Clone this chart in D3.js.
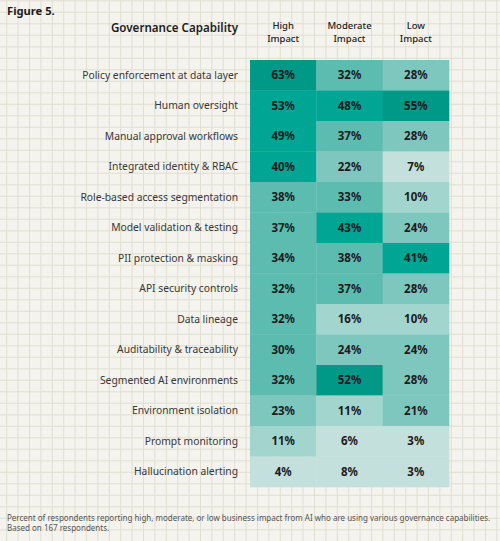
<!DOCTYPE html>
<html>
<head>
<meta charset="utf-8">
<script src="https://cdn.jsdelivr.net/npm/d3@7"></script>
<style>
  html, body { margin: 0; padding: 0; background: #f4f3ed; }
  svg { display: block; font-family: "Noto Sans", sans-serif; }
</style>
</head>
<body>
<svg id="chart" width="500" height="541"></svg>
<script>
var capabilities = [
  'Policy enforcement at data layer',
  'Human oversight',
  'Manual approval workflows',
  'Integrated identity & RBAC',
  'Role-based access segmentation',
  'Model validation & testing',
  'PII protection & masking',
  'API security controls',
  'Data lineage',
  'Auditability & traceability',
  'Segmented AI environments',
  'Environment isolation',
  'Prompt monitoring',
  'Hallucination alerting'
];
var impactLevels = [['High', 'Impact'], ['Moderate', 'Impact'], ['Low', 'Impact']];
var highImpact     = [63, 53, 49, 40, 38, 37, 34, 32, 32, 30, 32, 23, 11, 4];
var moderateImpact = [32, 48, 37, 22, 33, 43, 38, 37, 16, 24, 52, 11, 6, 8];
var lowImpact      = [28, 55, 28, 7, 10, 24, 41, 28, 10, 24, 28, 21, 3, 3];
var series = [highImpact, moderateImpact, lowImpact];

var svg = d3.select('#chart');
var W = 500, H = 541;

// background grid paper
var grid = svg.append('g');
grid.append('rect').attr('width', W).attr('height', H).attr('fill', '#f4f3ed');
grid.selectAll('line.v')
    .data(d3.range(6.7, W, 11.4))
    .enter().append('line')
    .attr('x1', function(d){return d}).attr('x2', function(d){return d})
    .attr('y1', 0).attr('y2', H)
    .attr('stroke', '#e2dfd3').attr('stroke-width', 1);
grid.selectAll('line.h')
    .data(d3.range(0.8, H, 11.5))
    .enter().append('line')
    .attr('y1', function(d){return d}).attr('y2', function(d){return d})
    .attr('x1', 0).attr('x2', W)
    .attr('stroke', '#e2dfd3').attr('stroke-width', 1);

var x = d3.scaleBand().domain(d3.range(impactLevels.length)).range([250, 449]);
var y = d3.scaleBand().domain(capabilities).range([60, 487]);

var color = d3.scaleThreshold()
    .domain([10, 20, 30, 40])
    .range(['#c3e0dc', '#a3d5cf', '#7ec7be', '#5dbcb0', '#00a594']);
var maxColor = '#009987';

var cells = [];
series.forEach(function(vals, c){
    var m = d3.max(vals);
    vals.forEach(function(v, r){
        cells.push({col: c, row: capabilities[r], value: v, isMax: v === m});
    });
});

var cell = svg.append('g').selectAll('g')
    .data(cells)
    .enter().append('g');

cell.append('rect')
    .attr('x', function(d){return x(d.col)})
    .attr('y', function(d){return y(d.row)})
    .attr('width', x.bandwidth() + 0.3)
    .attr('height', y.bandwidth() + 0.3)
    .attr('fill', function(d){return d.isMax ? maxColor : color(d.value)});

cell.append('text')
    .attr('x', function(d){return x(d.col) + x.bandwidth() / 2})
    .attr('y', function(d){return y(d.row) + y.bandwidth() / 2})
    .attr('dy', '0.35em')
    .attr('text-anchor', 'middle')
    .attr('font-size', 11.5)
    .attr('font-weight', 700)
    .attr('fill', '#1c1c1c')
    .text(function(d){return d.value + '%'});

// row labels
svg.append('g').selectAll('text')
    .data(capabilities)
    .enter().append('text')
    .attr('x', 238)
    .attr('y', function(d){return y(d) + y.bandwidth() / 2})
    .attr('dy', '0.35em')
    .attr('text-anchor', 'end')
    .attr('font-size', 10.3)
    .attr('fill', '#383838')
    .text(function(d){return d});

// column headers, two lines each
var headLines = [];
impactLevels.forEach(function(lines, i){
    lines.forEach(function(t, k){ headLines.push({col: i, line: k, text: t}); });
});
svg.append('g').selectAll('text')
    .data(headLines)
    .enter().append('text')
    .attr('x', function(d){return x(d.col) + x.bandwidth() / 2})
    .attr('y', function(d){return 28.5 + d.line * 13})
    .attr('text-anchor', 'middle')
    .attr('font-size', 9.5)
    .attr('font-weight', 500)
    .attr('fill', '#222')
    .text(function(d){return d.text});

svg.append('text')
    .attr('x', 238).attr('y', 28).attr('dy', '0.35em')
    .attr('text-anchor', 'end')
    .attr('font-size', 11.6).attr('font-weight', 600).attr('fill', '#1c1c1c')
    .text('Governance Capability');

svg.append('text')
    .attr('x', 7).attr('y', 11).attr('dy', '0.35em')
    .attr('font-size', 11.2).attr('font-weight', 700).attr('fill', '#1c1c1c')
    .text('Figure 5.');

var notes = [
    'Percent of respondents reporting high, moderate, or low business impact from AI who are using various governance capabilities.',
    'Based on 167 respondents.'
];
svg.append('g').selectAll('text')
    .data(notes)
    .enter().append('text')
    .attr('x', 7)
    .attr('y', function(d, i){return 518 + i * 10})
    .attr('dy', '0.35em')
    .attr('font-size', 8)
    .attr('fill', '#555')
    .text(function(d){return d});
</script>
</body>
</html>
